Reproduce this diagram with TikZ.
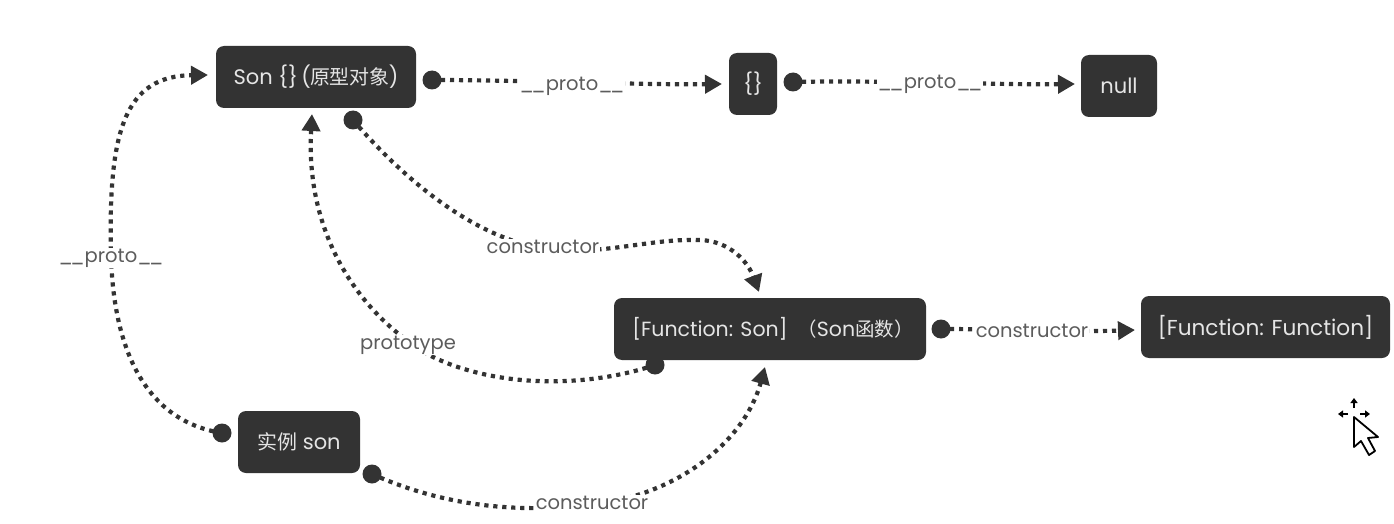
\documentclass[tikz,border=0pt]{standalone}
\usepackage{fontspec}
\setmainfont{Poppins}
\newfontfamily\cjkfont[Scale=0.95]{Noto Sans CJK SC}
\usetikzlibrary{arrows.meta}
\definecolor{boxdark}{HTML}{333333}
\definecolor{labelgrey}{HTML}{5C5C5C}
\newcommand{\dunder}{\_\kern-2.5pt\_}
\tikzset{
  topic/.style={fill=boxdark,rounded corners=8pt,text=white!90!black,inner sep=0pt,anchor=center,
    font=\fontsize{21}{24}\selectfont},
  joint/.style={circle,fill=boxdark,minimum size=19pt,inner sep=0pt},
  link/.style={draw=boxdark,line width=4.2pt,dash pattern=on 4.2pt off 4.8pt,
    -{Triangle[length=17pt,width=18pt,fill=boxdark]}},
  tag/.style={fill=white,text=labelgrey,inner xsep=1pt,inner ysep=1pt,font=\fontsize{19.5}{22}\selectfont}
}
\begin{document}
\begin{tikzpicture}[x=1pt,y=-1pt]
\useasboundingbox (0,0) rectangle (1394,524);

% boxes
\node[topic,minimum width=200pt,minimum height=62pt] (proto) at (316,77) {Son \{\}\kern-2pt\ (\kern-1pt{\cjkfont 原型对象}\kern-1pt)};
\node[topic,minimum width=48pt,minimum height=62pt] (empty) at (753,84) {\{\}};
\node[topic,minimum width=76pt,minimum height=62pt] (nul) at (1119,86) {null};
\node[topic,minimum width=312pt,minimum height=62pt] (func) at (770,329) {\kern6pt\fontsize{20.5}{24}\selectfont[Function: Son]\kern10pt{\cjkfont （}Son{\cjkfont 函数）}};
\node[topic,minimum width=249pt,minimum height=62pt,font=\fontsize{21.6}{24}\selectfont] (ff) at (1265.5,327) {[Function: Function]};
\node[topic,minimum width=122pt,minimum height=62pt] (inst) at (299,442) {{\cjkfont 实例} son};

% connector ends
\node[joint] (j1) at (432,80) {};
\node[joint] (j2) at (793,82) {};
\node[joint] (j3) at (353,120) {};
\node[joint] (j4) at (941,329) {};
\node[joint] (j5) at (655,365) {};
\node[joint] (j6) at (222,433) {};
\node[joint] (j7) at (372,474) {};
\coordinate (t1) at (208,75);
\coordinate (t2) at (722,84);
\coordinate (t3) at (1075,84);
\coordinate (t4) at (312,114);
\coordinate (t5) at (759,292);
\coordinate (t6) at (1135,330);
\coordinate (t7) at (765,367);

% connectors
\draw[link] (j1.center) .. controls (520,80) and (640,85) .. (t2);
\draw[link] (j2.center) .. controls (880,80) and (1000,85) .. (t3);
\draw[link] (j4.center) .. controls (1000,329) and (1080,332) .. (t6);
\draw[link] (j6.center) .. controls (140,420) and (113,340) .. (111,255)
   .. controls (108,130) and (125,76) .. (t1);
\draw[link] (j3.center) .. controls (400,175) and (460,225) .. (520,243)
   .. controls (590,262) and (640,238) .. (700,240)
   .. controls (730,241) and (748,262) .. (t5);
\draw[link] (j5.center) .. controls (590,387) and (500,389) .. (433,357)
   .. controls (365,320) and (305,240) .. (t4);
\draw[link] (j7.center) .. controls (430,500) and (500,515) .. (590,505)
   .. controls (680,495) and (745,440) .. (t7);

% connector labels
\node[tag] (l1) at (572,86) {\dunder proto\dunder};
\node[tag] (l2) at (930,84) {\dunder proto\dunder};
\node[tag] (l3) at (111,258) {\dunder proto\dunder};
\node[tag] (l4) at (543,247) {constructor};
\node[tag] (l5) at (408,345) {prototype};
\node[tag] (l6) at (1032,331) {constructor};
\node[tag] (l7) at (592,503) {constructor};

% pointer
\draw[black,line width=1.8pt,fill=white,line join=round]
  (1354,417) -- (1354,447) -- (1361,441) -- (1369,455) -- (1375,451) -- (1368,438) -- (1378,437) -- cycle;
\draw[black,line width=1.8pt,-{Triangle[length=5pt,width=7pt]}] (1354,408) -- (1354,398);
\draw[black,line width=1.8pt,-{Triangle[length=5pt,width=7pt]}] (1348,414) -- (1338,414);
\draw[black,line width=1.8pt,-{Triangle[length=5pt,width=7pt]}] (1360,414) -- (1370,414);
\end{tikzpicture}
\end{document}
